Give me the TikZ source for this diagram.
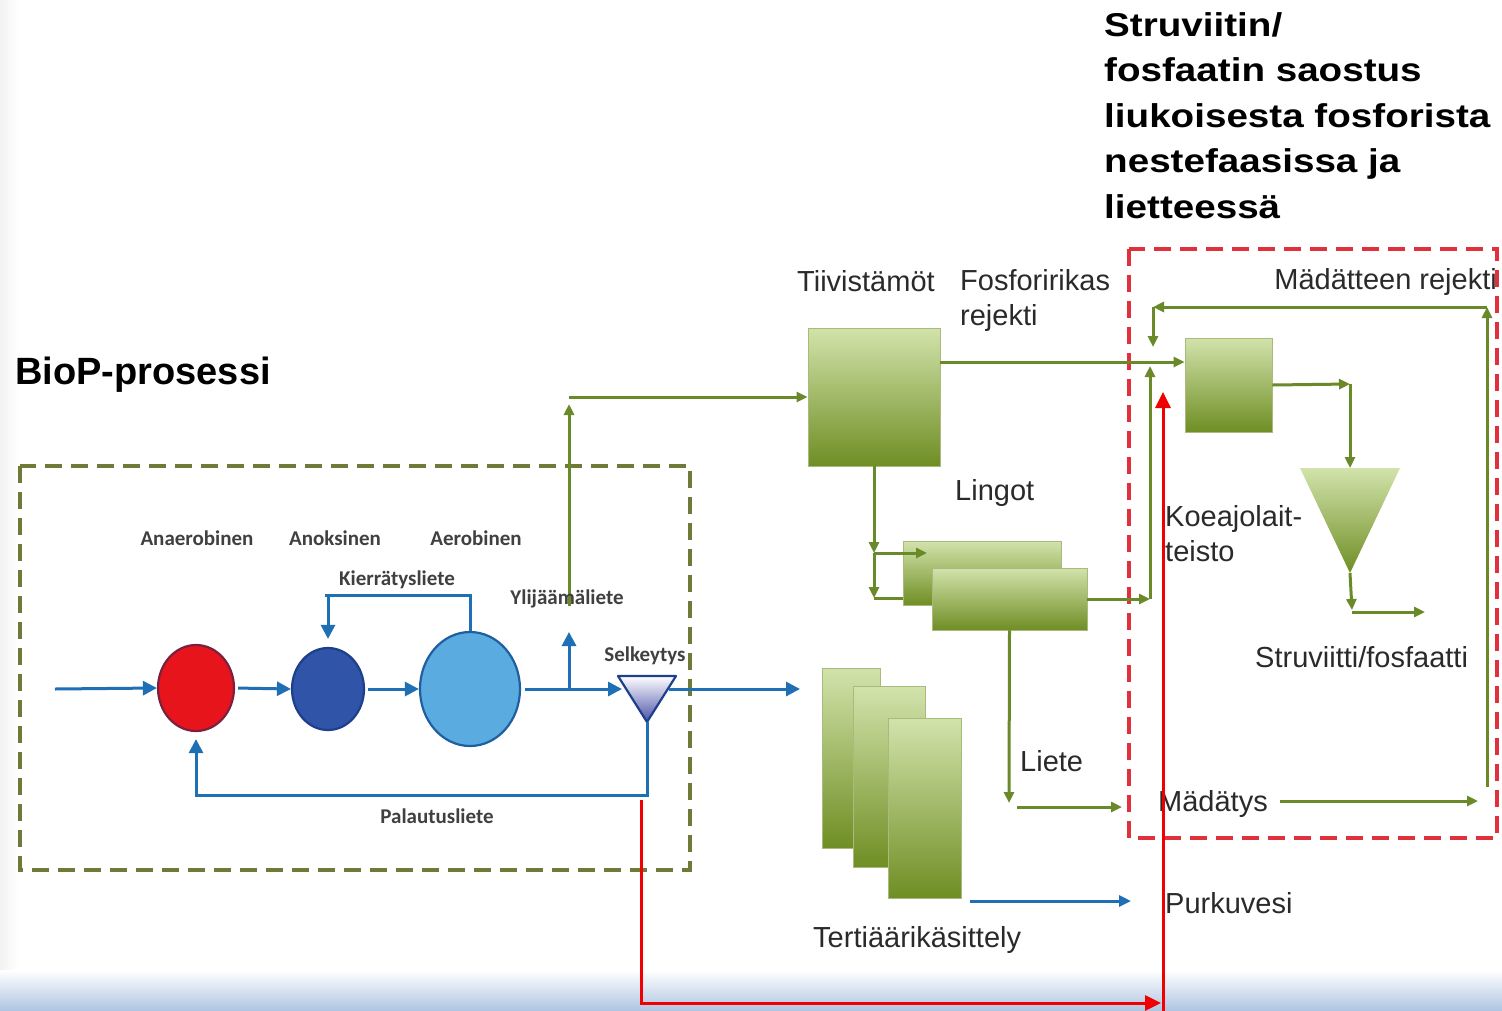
\documentclass[tikz,border=0pt]{standalone}
\usepackage{fontspec}
\setmainfont{Liberation Sans}
\newfontfamily\smallfont{Carlito}
\newfontfamily\titlefont[FakeStretch=1.17]{Liberation Sans}
\usetikzlibrary{arrows.meta,shapes.geometric,calc}
\definecolor{flowblue}{HTML}{1F6FB5}
\definecolor{cred}{HTML}{E8141C}
\definecolor{credb}{HTML}{7A2040}
\definecolor{cdark}{HTML}{2F54A8}
\definecolor{cdarkb}{HTML}{1D3F8C}
\definecolor{clight}{HTML}{5AACE0}
\definecolor{clightb}{HTML}{1F5FA0}
\definecolor{olive}{HTML}{6A8A2A}
\definecolor{olivedash}{HTML}{6E7B38}
\definecolor{gtop}{HTML}{D2E3AB}
\definecolor{gbot}{HTML}{6F8E24}
\definecolor{reddash}{HTML}{E0303C}
\definecolor{redarr}{HTML}{F00000}
\definecolor{txt}{HTML}{2A2A2A}
\definecolor{stxt}{HTML}{404040}
\definecolor{bandblue}{HTML}{B0C6E2}
\definecolor{selb}{HTML}{4A50A8}
\begin{document}
\begin{tikzpicture}[x=1pt,y=-1pt,
  bflow/.style={draw=flowblue, line width=3pt, -{Triangle[length=14pt,width=14pt]}},
  bflowthin/.style={draw=flowblue, line width=3pt, -{Triangle[length=12pt,width=11pt]}},
  gflow/.style={draw=olive, line width=3pt, -{Triangle[length=11pt,width=10pt]}},
  gline/.style={draw=olive, line width=3pt},
  redarrow/.style={draw=redarr, line width=3pt, -{Triangle[length=16pt,width=15pt]}},
  circ/.style={ellipse, line width=2.2pt, inner sep=0pt},
  gbox/.style={rectangle, inner sep=0pt, top color=gtop, bottom color=gbot, draw=gbot!60!white, line width=0.8pt},
  lbl/.style={font=\fontsize{29}{35}\selectfont, text=txt, inner sep=0pt, anchor=base west},
  slbl/.style={font=\smallfont\bfseries\fontsize{21}{26}\selectfont, text=stxt, inner sep=0pt, anchor=base},
  gdash/.style={draw=olivedash, line width=4pt, dash pattern=on 17pt off 9pt},
  rdash/.style={draw=reddash, line width=4pt, dash pattern=on 17pt off 9pt}
]
\useasboundingbox (0,0) rectangle (1502,1010);
\fill[white] (0,0) rectangle (1502,1010);
\shade[left color=black!5, right color=white] (0,0) rectangle (18,1010);
\shade[top color=white, bottom color=bandblue] (0,970) rectangle (1502,1010);

% titles
\node[font=\titlefont\bfseries\fontsize{33}{45.5}\selectfont, text=black, inner sep=0pt, anchor=north west, align=left] (title) at (1104,12)
  {Struviitin/\\fosfaatin saostus\\liukoisesta fosforista\\nestefaasissa ja\\lietteessä};
\node[font=\bfseries\fontsize{38}{44}\selectfont, text=black, inner sep=0pt, anchor=base west] (biop) at (15,384) {BioP-prosessi};

% dashed frames
\draw[gdash] (20,466) rectangle (690,870);
\draw[rdash] (1129,249) rectangle (1497,838);

% ===== BioP process =====
\node[circ, fill=cred, draw=credb, minimum width=76pt, minimum height=86pt] (ana) at (196,688) {};
\node[circ, fill=cdark, draw=cdarkb, minimum width=72pt, minimum height=82pt] (anox) at (328,689) {};
\node[circ, fill=clight, draw=clightb, minimum width=100pt, minimum height=114pt] (aer) at (470,689) {};
\coordinate (s1) at (618,676);
\coordinate (s2) at (676,676);
\coordinate (s3) at (647,722);
\shadedraw[top color=white, bottom color=selb, draw=cdarkb, line width=2.2pt, line join=round] (s1) -- (s2) -- (s3) -- cycle;

\node[slbl] (lana) at (197,545) {Anaerobinen};
\node[slbl] (lanox) at (335,545) {Anoksinen};
\node[slbl] (laer) at (476,545) {Aerobinen};
\node[slbl] (lkier) at (397,585) {Kierrätysliete};
\node[slbl] (lsel) at (645,661) {Selkeytys};
\node[slbl] (lpal) at (437,823) {Palautusliete};

\coordinate (inflow) at (55,689);
\coordinate (selin) at (622,689);
\coordinate (ylj) at (569,689);
\coordinate (yljtop) at (569,632);
\coordinate (selout) at (669,689);
\coordinate (effl) at (800,689);
\coordinate (kier) at (325,595);
\coordinate (pal) at (197,795);
\draw[bflow] (inflow) -- (ana.west);
\draw[bflow, shorten <=3pt] (ana.east) -- (anox.west);
\draw[bflow, shorten <=3pt] (anox.east) -- (aer.west);
\draw[bflow, shorten <=4pt] (aer.east) -- (selin);
\draw[bflow] (ylj) -- (yljtop);
\draw[bflow] (selout) -- (effl);
\draw[bflow, shorten >=8pt] (aer.north) |- (kier) -| (anox.north);
\draw[bflow, shorten >=7pt] (s3) |- (pal) -| (ana.south);

% ===== thickening =====
\node[gbox, minimum width=132pt, minimum height=138pt] (tiiv) at (874,397) {};
\coordinate (ylg) at (569,606);
\coordinate (ylgtop) at (569,404);
\coordinate (ylcorner) at (569,397);
\draw[gflow] (ylg) -- (ylgtop);
\draw[gflow] (ylcorner) -- (tiiv.west);
\node[slbl] (lylj) at (567,604) {Ylijäämäliete};

\coordinate (t1) at (874,553);
\coordinate (t2) at (874,598);
\coordinate (t3) at (935,598);
\coordinate (t1e) at (927,553);
\draw[gline] (t2) -- (t3);
\draw[gflow] (tiiv.south) -- (t1);
\draw[gflow] (t1) -- (t2);

\node[gbox, minimum width=158pt, minimum height=64pt] (box1) at (982,573) {};
\node[gbox, minimum width=155pt, minimum height=62pt] (box2) at (1009.5,599) {};
\draw[gflow] (t1) -- (t1e);

\coordinate (j1) at (1153,362);
\coordinate (j2) at (1150,599);
\coordinate (j2top) at (1150,366);
\draw[gflow] (box2.east) -- (j2);
\draw[gflow] (j2) -- (j2top);

% ===== pilot plant =====
\node[gbox, minimum width=87pt, minimum height=94pt] (koe) at (1228.5,385) {};
\draw[gflow] (tiiv.east |- j1) -- (koe.west |- j1);
\coordinate (ta) at (1300,468);
\coordinate (tb) at (1400,468);
\coordinate (tc) at (1350,573);
\coordinate (ttop) at (1350,468);
\shade[top color=gtop, bottom color=gbot] (ta) -- (tb) -- (tc) -- cycle;
\coordinate (k1) at (1350,384);
\coordinate (k2) at (1352,610);
\coordinate (k2b) at (1352,612);
\coordinate (k3) at (1425,612);
\draw[gflow] (koe.east) -- (k1);
\draw[gflow] (k1) -- (ttop);
\draw[gflow] (tc) -- (k2);
\draw[gflow] (k2b) -- (k3);

\coordinate (r1) at (1487,787);
\coordinate (r2) at (1487,307);
\coordinate (r3) at (1153,307);
\coordinate (r4) at (1153,347);
\draw[gflow] (r1) -- (r2);
\draw[gflow] (r2) -- (r3);
\draw[gflow] (r3) -- (r4);

% ===== digestion / sludge =====
\coordinate (l1) at (1009,803);
\coordinate (l2) at (1017,807);
\coordinate (l3) at (1122,807);
\draw[gflow] (box2.south) -- (l1);
\draw[gflow] (l2) -- (l3);
\node[lbl] (mad) at (1158,811) {Mädätys};
\coordinate (m1) at (1280,801);
\coordinate (m2) at (1478,801);
\draw[gflow] (m1) -- (m2);

% ===== tertiary =====
\node[gbox, minimum width=58pt, minimum height=180pt] (ter1) at (851,758) {};
\node[gbox, minimum width=72pt, minimum height=181pt] (ter2) at (889,777) {};
\node[gbox, minimum width=73pt, minimum height=180pt] (ter3) at (924.5,808) {};
\coordinate (pk1) at (970,901);
\coordinate (pk2) at (1131,901);
\draw[bflowthin] (pk1) -- (pk2);

% labels
\node[lbl] (ltiiv) at (797,291) {Tiivistämöt};
\node[lbl, align=left, anchor=north west] (lfos) at (960,269) {Fosforirikas\\rejekti};
\node[lbl] (lling) at (955,500) {Lingot};
\node[lbl, align=left, anchor=north west] (lkoe) at (1165,505) {Koeajolait-\\teisto};
\node[lbl, anchor=base east] (lmadrej) at (1497,289) {Mädätteen rejekti};
\node[lbl] (lstru) at (1255,667) {Struviitti/fosfaatti};
\node[lbl] (llie) at (1020,771) {Liete};
\node[lbl] (lpur) at (1165,913) {Purkuvesi};
\node[lbl] (lter) at (813,947) {Tertiäärikäsittely};

% ===== red arrows =====
\coordinate (rd1) at (641,800);
\coordinate (rd3) at (1161,1003);
\coordinate (rv1) at (1163,1012);
\coordinate (rv2) at (1163,392);
\draw[redarrow] (rd1) |- (rd3);
\draw[redarrow] (rv1) -- (rv2);
\end{tikzpicture}
\end{document}
